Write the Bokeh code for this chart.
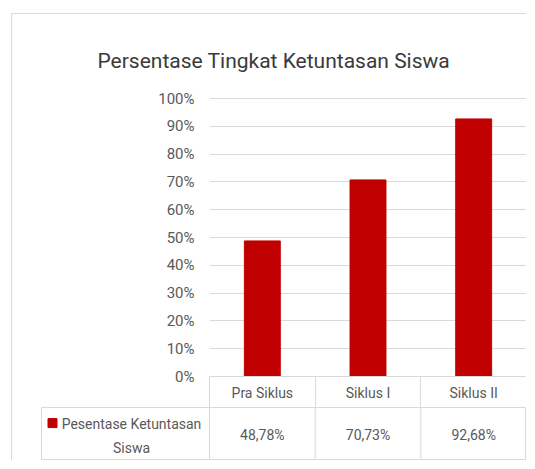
from bokeh.plotting import figure
from bokeh.models import Range1d, FixedTicker, PrintfTickFormatter
from bokeh.layouts import column
from bokeh.embed import file_html
from bokeh.resources import INLINE
from bokeh.core.properties import value

# ---- data ----
categories = ["Pra Siklus", "Siklus I", "Siklus II"]
values = [48.78, 70.73, 92.68]
series_label = "Pesentase Ketuntasan\nSiswa"
y_ticks = [0, 10, 20, 30, 40, 50, 60, 70, 80, 90, 100]
title_text = "Persentase Tingkat Ketuntasan Siswa"

value_labels = [("%.2f" % v).replace(".", ",") + "%" for v in values]

# ---- style ----
FONT = "Roboto"
BAR = "#C00000"
GRID = "#D9D9D9"
TEXT = "#595959"
LBL = "14px"

n = len(categories)
xs = list(range(n))
W = 514
LEFT_A = 197
unit = (W - LEFT_A) / n

pa = figure(width=W, height=393, output_backend="svg", toolbar_location=None,
            x_range=Range1d(-0.5, n - 0.5), y_range=Range1d(0, 100.4),
            min_border_left=LEFT_A, min_border_right=0, min_border_top=83,
            min_border_bottom=31, outline_line_color=None)
pa.frame_align = False
pa.vbar(x=xs, top=values, width=0.34, color=BAR)

pa.title.text = title_text
pa.title.align = "left"
pa.title.offset = -112
pa.title.standoff = 50
pa.title.text_font = FONT
pa.title.text_font_size = "21px"
pa.title.text_font_style = "normal"
pa.title.text_color = "#3A3A3A"

xa = pa.xaxis[0]
xa.ticker = FixedTicker(ticks=xs, minor_ticks=[i - 0.5 for i in range(n + 1)])
xa.major_label_overrides = {i: c for i, c in enumerate(categories)}
xa.major_tick_line_color = None
xa.major_tick_out = 0
xa.minor_tick_in = 0
xa.minor_tick_out = 31
xa.minor_tick_line_color = GRID
xa.axis_line_color = GRID
xa.major_label_standoff = -23
xa.major_label_text_font = FONT
xa.major_label_text_font_size = LBL
xa.major_label_text_color = TEXT

ya = pa.yaxis[0]
ya.ticker = FixedTicker(ticks=y_ticks)
ya.formatter = PrintfTickFormatter(format="%d%%")
ya.axis_line_color = None
ya.major_tick_line_color = None
ya.minor_tick_line_color = None
ya.major_label_standoff = 9
ya.major_label_text_font = FONT
ya.major_label_text_font_size = "15px"
ya.major_label_text_color = TEXT

pa.xgrid.visible = False
pa.ygrid.grid_line_color = GRID

# ---- table row ----
LEFT_B = 29
x_start = (n - 0.5) - (W - LEFT_B) / unit
pb = figure(width=W, height=53, output_backend="svg", toolbar_location=None,
            x_range=Range1d(x_start, n - 0.5), y_range=Range1d(0, 1),
            min_border_left=LEFT_B, min_border_right=0, min_border_top=0,
            min_border_bottom=1, outline_line_color=GRID)
pb.frame_align = False
pb.axis.visible = False
pb.grid.visible = False
bx = [i - 0.5 for i in range(n)]
pb.segment(x0=bx, y0=0, x1=bx, y1=1, color=GRID)
pb.text(x=xs, y=0.47, text=value_labels, text_align="center", text_baseline="middle",
        text_font=value(FONT), text_font_size=LBL, text_color=TEXT)
pb.scatter(x=[x_start + 11 / unit], y=[0.7], marker="square", size=9, color=BAR)
pb.text(x=[-0.5 - 78 / unit], y=[0.46], text=[series_label], text_align="center",
        text_baseline="middle", text_font=value(FONT), text_font_size=LBL,
        text_color=TEXT, text_line_height=1.5)

layout = column(pa, pb,
                styles={"margin-left": "11px", "margin-top": "13px",
                        "border-left": "1px solid #D9D9D9",
                        "border-top": "1px solid #D9D9D9"})

open("out.html", "w").write(file_html(layout, INLINE))
